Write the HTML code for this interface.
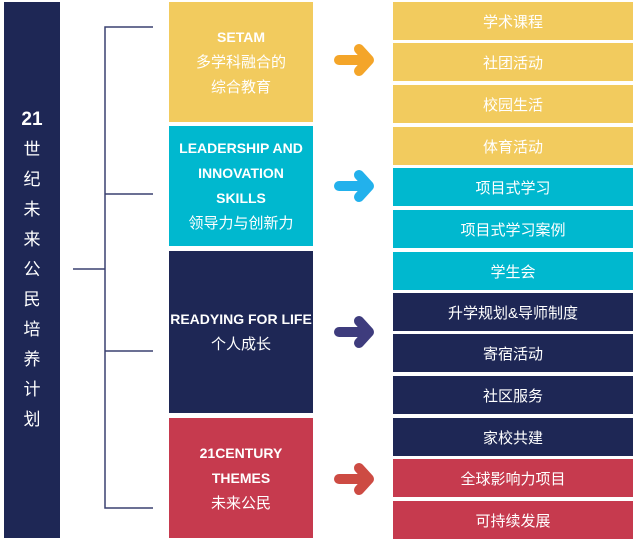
<!DOCTYPE html>
<html><head><meta charset="utf-8"><style>
body{margin:0;width:638px;height:543px;background:#fff;position:relative;overflow:hidden;font-family:"Liberation Sans","Noto Sans CJK SC",sans-serif;color:#fff}
.b{position:absolute;display:flex;flex-direction:column;align-items:center;justify-content:center;text-align:center}
.m{left:169px;width:144px;font-size:15px;line-height:25px}
.m b{font-size:14px}
.r{left:393px;width:240px;height:38px;font-size:15px}
.y{background:#F2CB5E}.t{background:#00B8CF}.n{background:#1E2755}.d{background:#C63A4E}
</style></head><body>
<div class="b n" style="left:4px;top:2px;width:56px;height:536px;font-size:17px;line-height:30px"><b style="font-size:19px">21</b>世<br>纪<br>未<br>来<br>公<br>民<br>培<br>养<br>计<br>划</div>
<svg style="position:absolute;left:0;top:0" width="638" height="543">
<g stroke="#3a4170" stroke-width="1.5" fill="none">
<path d="M153 27H105V508H153M105 194H153M105 351H153M73 269H105"/>
</g>
<g stroke-linecap="round" stroke-linejoin="round" fill="none" stroke-width="10" opacity="0.9">
<g stroke="#F39C12"><path d="M339 60H368"/><path d="M359 49L369 60L359 71"/></g>
<g stroke="#0BA9EB"><path d="M339 186H368"/><path d="M359 175L369 186L359 197"/></g>
<g stroke="#2A2870"><path d="M339 332H368"/><path d="M359 321L369 332L359 343"/></g>
<g stroke="#C8382F"><path d="M339 479H368"/><path d="M359 468L369 479L359 490"/></g>
</g>
</svg>
<div class="b m y" style="top:2px;height:120px"><b>SETAM</b>多学科融合的<br>综合教育</div>
<div class="b m t" style="top:126px;height:120px"><b>LEADERSHIP AND<br>INNOVATION<br>SKILLS</b>领导力与创新力</div>
<div class="b m n" style="top:251px;height:162px"><b>READYING FOR LIFE</b>个人成长</div>
<div class="b m d" style="top:418px;height:120px"><b>21CENTURY<br>THEMES</b>未来公民</div>
<div class="b r y" style="top:2px">学术课程</div>
<div class="b r y" style="top:43px">社团活动</div>
<div class="b r y" style="top:85px">校园生活</div>
<div class="b r y" style="top:127px">体育活动</div>
<div class="b r t" style="top:168px">项目式学习</div>
<div class="b r t" style="top:210px">项目式学习案例</div>
<div class="b r t" style="top:252px">学生会</div>
<div class="b r n" style="top:293px">升学规划&amp;导师制度</div>
<div class="b r n" style="top:334px">寄宿活动</div>
<div class="b r n" style="top:376px">社区服务</div>
<div class="b r n" style="top:418px">家校共建</div>
<div class="b r d" style="top:459px">全球影响力项目</div>
<div class="b r d" style="top:501px">可持续发展</div>
</body></html>
